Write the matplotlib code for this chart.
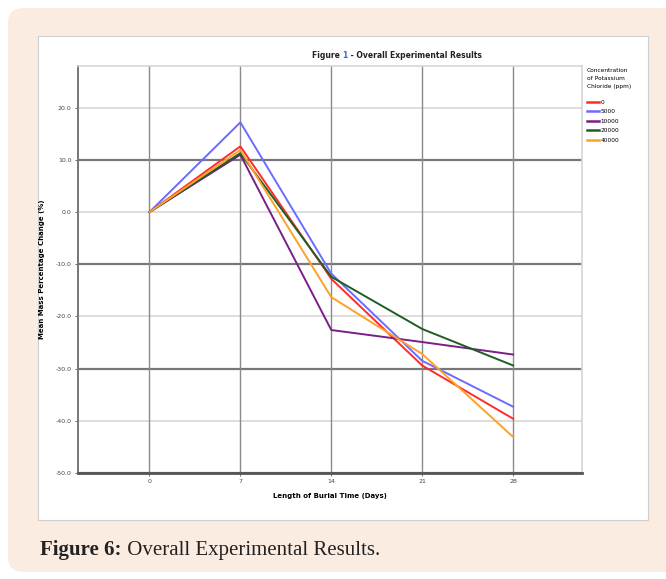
import matplotlib.pyplot as plt
from matplotlib.patches import FancyBboxPatch, Rectangle

days = [0, 7, 14, 21, 28]
series_labels = ["0", "5000", "10000", "20000", "40000"]
mass_0 = [0.0, 12.6, -12.8, -29.4, -39.6]
mass_5000 = [0.0, 17.2, -11.8, -28.5, -37.3]
mass_10000 = [0.0, 11.0, -22.6, -24.9, -27.3]
mass_20000 = [0.0, 11.3, -12.4, -22.4, -29.4]
mass_40000 = [0.0, 11.9, -16.3, -27.2, -43.1]
y_ticks = [20, 10, 0, -10, -20, -30, -40, -50]
y_tick_labels = ["20.0", "10.0", "0.0", "-10.0", "-20.0", "-30.0", "-40.0", "-50.0"]

colors = ["#ff2b2b", "#6b6bff", "#7b1e86", "#1e5e24", "#ffa028"]
W, H = 666, 579

fig = plt.figure(figsize=(W / 100, H / 100), dpi=100)
fig.patch.set_facecolor("white")

# pixel coords -> figure fraction
def fx(px):
    return px / W

def fy(py):
    return 1 - py / H

card = FancyBboxPatch((fx(8), fy(572)), fx(700) - fx(8), fy(8) - fy(572),
                      boxstyle="round,pad=0,rounding_size=0.025",
                      transform=fig.transFigure, facecolor="#fbece1",
                      edgecolor="none", zorder=-3)
fig.patches.append(card)
frame = Rectangle((fx(38), fy(520)), fx(648) - fx(38), fy(36) - fy(520),
                  transform=fig.transFigure, facecolor="white",
                  edgecolor="#cfcfcf", lw=0.8, zorder=-2)
fig.patches.append(frame)

ax = fig.add_axes([fx(78), fy(473), fx(582) - fx(78), fy(66) - fy(473)])
ax.set_xlim(-5.5, 33.3)
ax.set_ylim(-50, 28)

# gridlines: dark every 20 from -50, light in between
for y in y_ticks:
    dark = (y + 50) % 20 == 0
    ax.axhline(y, color="#777777" if dark else "#dddddd",
               lw=1.6 if dark else 1.4, zorder=1)
for x in days:
    ax.axvline(x, color="#8a8a8a", lw=1.0, zorder=1)

all_series = [mass_0, mass_5000, mass_10000, mass_20000, mass_40000]
for vals, lab, c in zip(all_series, series_labels, colors):
    ax.plot(days, vals, color=c, lw=1.4, label=lab, zorder=3)

ax.set_xticks(days)
ax.set_xticklabels([str(d) for d in days])
ax.set_yticks(y_ticks)
ax.set_yticklabels(y_tick_labels)
ax.tick_params(axis="both", labelsize=4.5, length=2.5, width=0.6,
               colors="#555555", labelcolor="#444444", pad=2)

for side in ["top", "right"]:
    ax.spines[side].set_color("#d5d5d5")
    ax.spines[side].set_linewidth(1.2)
ax.spines["left"].set_color("#777777")
ax.spines["left"].set_linewidth(1.4)
ax.spines["bottom"].set_color("#555555")
ax.spines["bottom"].set_linewidth(2.0)

ax.set_xlabel("Length of Burial Time (Days)", fontsize=5, fontweight="bold",
              labelpad=6)
ax.set_ylabel("Mean Mass Percentage Change (%)", fontsize=5, fontweight="bold",
              labelpad=8)

# title with the blue "1"
t1 = fig.text(fx(312), fy(58), "Figure ", fontsize=5.5, fontweight="bold",
              va="baseline", color="#222222")
t2 = ax.annotate("1", xy=(1, 0), xycoords=t1, va="bottom", fontsize=5.5,
                 fontweight="bold", color="#2a6fd6", annotation_clip=False)
t3 = ax.annotate(" - Overall Experimental Results", xy=(1, 0), xycoords=t2,
                 va="bottom", fontsize=5.5, fontweight="bold",
                 color="#222222", annotation_clip=False)

leg = fig.legend(loc="upper left", bbox_to_anchor=(fx(583), fy(64)),
                 frameon=False, fontsize=4.2,
                 title="Concentration\nof Potassium\nChloride (ppm)",
                 title_fontsize=4.2, handlelength=2.0, handletextpad=0.3,
                 labelspacing=0.75, borderpad=0.2)
leg._legend_box.align = "left"
leg._legend_box.sep = 8
leg.get_title().set_linespacing(1.7)
for h in leg.legend_handles:
    h.set_linewidth(1.8)

c1 = fig.text(fx(40), fy(555), "Figure 6:", fontsize=15, fontweight="bold",
              family="Liberation Serif", color="#222222", va="baseline")
ax.annotate(" Overall Experimental Results.", xy=(1, 0), xycoords=c1,
            va="bottom", fontsize=15, family="Liberation Serif",
            color="#222222", annotation_clip=False)

fig.savefig("out.png", dpi=100)
